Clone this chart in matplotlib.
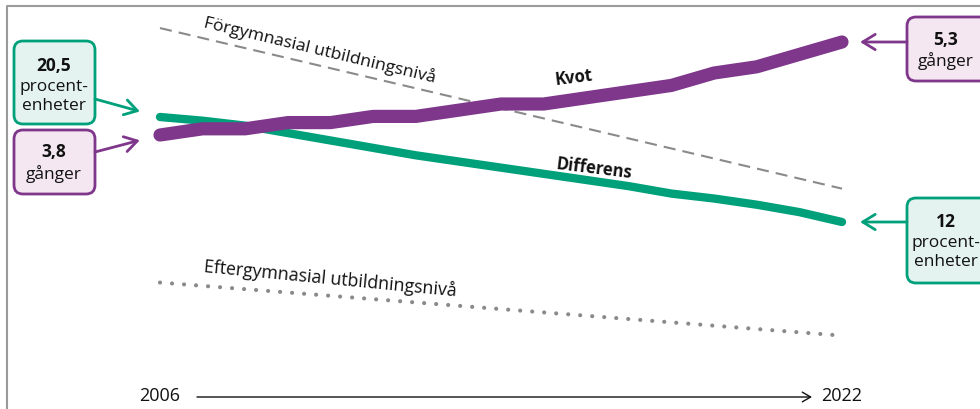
import numpy as np
import matplotlib.pyplot as plt
from matplotlib.patches import FancyBboxPatch
from matplotlib.lines import Line2D
from matplotlib.transforms import IdentityTransform, blended_transform_factory

plt.rcParams['font.family'] = ['Open Sans', 'DejaVu Sans']

years = np.arange(2006, 2023)
kvot = [3.8, 3.9, 3.9, 4.0, 4.0, 4.1, 4.1, 4.2, 4.3, 4.3, 4.4, 4.5, 4.6, 4.8, 4.9, 5.1, 5.3]
differens = [20.5, 20.2, 19.8, 19.2, 18.6, 18.0, 17.4, 16.9, 16.4, 15.9, 15.4, 14.9,
             14.3, 13.9, 13.4, 12.8, 12.0]
# schematic reference levels (same scale as differens)
forgymnasial = [27.7, 14.7]
eftergymnasial = [7.1, 2.8]

PURPLE = '#7f378b'
GREEN = '#00a07b'
GRAY = '#8a8a8a'
INK = '#111111'
W, H = 980, 409

fig = plt.figure(figsize=(W / 100, H / 100), dpi=100)
ax = fig.add_axes([0, 0, 1, 1])
ax2 = ax.twinx()
for a in (ax, ax2):
    a.set_axis_off()

# scales: 2006 at x=160px, 2022 at x=842px
px_year = 682 / 16
ax.set_xlim(2006 - 160 / px_year, 2006 + (W - 160) / px_year)
px_diff = 105 / 8.5
ax.set_ylim(20.5 - (H - 117) / px_diff, 20.5 + 117 / px_diff)
px_kvot = 93 / 1.5
ax2.set_ylim(3.8 - (H - 135) / px_kvot, 3.8 + 135 / px_kvot)

ends = [years[0], years[-1]]
ax.plot(ends, forgymnasial, color=GRAY, lw=1.5, dashes=(5.8, 3.4))
ax.plot(ends, eftergymnasial, color=GRAY, lw=3, dashes=(0.01, 2.88),
        dash_capstyle='round')
ax.plot(years, differens, color=GREEN, lw=6, solid_capstyle='round',
        solid_joinstyle='round')
ax2.plot(years, kvot, color=PURPLE, lw=9.5, solid_capstyle='round',
         solid_joinstyle='round')

ident = IdentityTransform()


def at(x, y):
    return x, H - y


ax.text(*at(320, 50), 'Förgymnasial utbildningsnivå', transform=ident,
        fontsize=12.6, rotation=-13.5, ha='center', va='center', color=INK)
ax.text(*at(330, 279), 'Eftergymnasial utbildningsnivå', transform=ident,
        fontsize=12.8, rotation=-5.5, ha='center', va='center', color=INK)
ax.text(*at(574, 78), 'Kvot', transform=ident, fontsize=12, fontweight='bold',
        rotation=7, ha='center', va='center', color=INK)
ax.text(*at(594, 169), 'Differens', transform=ident, fontsize=12,
        fontweight='bold', rotation=-7, ha='center', va='center', color=INK)


def box(x0, y0, x1, y1, cx, edge, face, lines):
    ax.add_patch(FancyBboxPatch(at(x0, y1), x1 - x0, y1 - y0,
                                boxstyle='round,pad=0,rounding_size=9',
                                transform=ident, lw=2, ec=edge, fc=face,
                                clip_on=False, zorder=3))
    for txt, bold, yy in lines:
        ax.text(*at(cx, yy), txt, transform=ident, fontsize=12.5,
                fontweight='bold' if bold else 'normal', ha='center', va='center',
                color=INK, zorder=4)


def fmt(v):
    return f'{v:g}'.replace('.', ',')


box(14, 41, 95, 124, 54, GREEN, '#e4f3ef',
    [(fmt(differens[0]), True, 66), ('procent-', False, 87), ('enheter', False, 106)])
box(14, 130, 95, 194, 54, PURPLE, '#f4e7f2',
    [(fmt(kvot[0]), True, 152), ('gånger', False, 174)])
box(907, 17, 1000, 81, 946, PURPLE, '#f4e7f2',
    [(fmt(kvot[-1]), True, 40), ('gånger', False, 61)])
box(907, 198, 1000, 283, 946, GREEN, '#e4f3ef',
    [(fmt(differens[-1]), True, 222), ('procent-', False, 243), ('enheter', False, 262)])

arrow = dict(arrowstyle='->,head_length=0.9,head_width=0.55', lw=2,
             shrinkA=0)
ax.annotate('', xy=(years[0], differens[0]), xytext=at(95, 99),
            textcoords=ident, arrowprops=dict(arrow, color=GREEN, shrinkB=15))
ax2.annotate('', xy=(years[0], kvot[0]), xytext=at(95, 152),
             textcoords=ident, arrowprops=dict(arrow, color=PURPLE, shrinkB=15))
ax2.annotate('', xy=(years[-1], kvot[-1]), xytext=at(907, 42),
             textcoords=ident, arrowprops=dict(arrow, color=PURPLE, shrinkB=13))
ax.annotate('', xy=(years[-1], differens[-1]), xytext=at(907, 222),
            textcoords=ident, arrowprops=dict(arrow, color=GREEN, shrinkB=13))

# frame on top and left
fig.add_artist(Line2D([7, 7, W], [0, H - 6, H - 6], transform=ident,
                      color='#9a9a9a', lw=1.5))

# time axis at the bottom
bt = blended_transform_factory(ax.transData, ident)
ax.text(years[0], H - 396, str(years[0]), transform=bt, ha='center',
        va='center', fontsize=13, color=INK)
ax.text(years[-1], H - 396, str(years[-1]), transform=bt, ha='center',
        va='center', fontsize=13, color=INK)
ax.annotate('', xy=(years[-1] - 30 / px_year, H - 397),
            xytext=(years[0] + 37 / px_year, H - 397), xycoords=bt,
            textcoords=bt,
            arrowprops=dict(arrowstyle='->,head_length=0.6,head_width=0.35',
                            lw=1, color=INK, shrinkA=0, shrinkB=0))

fig.savefig('out.png', dpi=100)
